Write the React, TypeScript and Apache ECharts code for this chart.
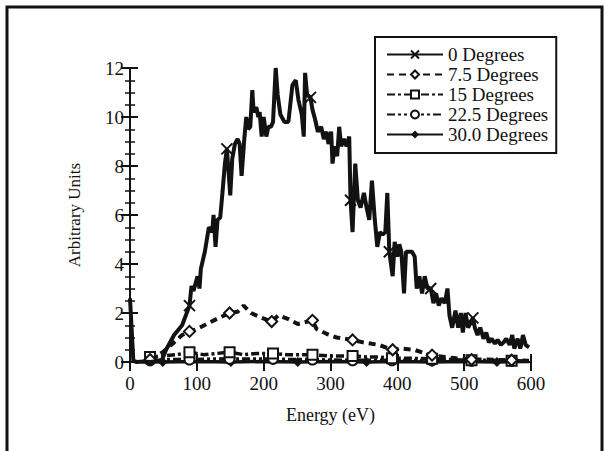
import React, { useEffect, useRef } from "react";
import * as echarts from "echarts";

// ---- Data ----
const xTicks = [0, 100, 200, 300, 400, 500, 600];
const yTicks = [0, 2, 4, 6, 8, 10, 12];

const deg0X = [0, 5, 10, 20, 30, 40, 48, 54, 66, 78, 89, 92, 95, 101, 104, 106, 112, 118, 123, 125, 128, 131, 135, 138, 142, 145, 150, 153, 157, 161, 164, 167, 171, 174, 177, 180, 183, 185, 189, 192, 194, 197, 200, 204, 207, 211, 214, 218, 221, 225, 231, 237, 243, 248, 252, 257, 260, 262, 265, 270, 273, 277, 281, 286, 290, 294, 297, 301, 303, 306, 310, 313, 316, 320, 324, 328, 330, 333, 337, 341, 345, 350, 354, 358, 362, 366, 370, 374, 378, 382, 385, 388, 393, 396, 400, 403, 406, 410, 413, 422, 426, 429, 433, 437, 441, 445, 450, 454, 458, 462, 466, 471, 475, 478, 482, 487, 491, 495, 498, 502, 506, 513, 516, 520, 524, 529, 533, 537, 541, 546, 550, 555, 559, 563, 568, 572, 575, 580, 584, 588, 592, 597];
const deg0Y = [2.6, 0.05, 0, 0.02, 0, 0.03, 0.1, 0.5, 1.1, 1.5, 2.3, 3.1, 2.9, 3.5, 3.0, 3.8, 4.5, 5.5, 5.3, 6.0, 4.7, 5.8, 5.9, 6.8, 8.1, 8.7, 6.8, 8.3, 8.9, 9.1, 8.9, 7.6, 9.1, 10.0, 9.5, 9.6, 11.1, 10.2, 10.4, 10.0, 10.2, 9.2, 10.0, 9.2, 9.6, 9.6, 9.8, 12.0, 10.9, 10.1, 9.8, 9.8, 11.3, 11.5, 10.7, 10.1, 9.2, 11.8, 10.9, 10.8, 10.3, 9.9, 9.4, 9.6, 9.1, 9.4, 8.9, 9.4, 8.1, 8.8, 8.4, 9.6, 8.8, 9.1, 8.8, 9.2, 6.6, 5.3, 8.1, 6.6, 6.3, 6.9, 6.3, 5.8, 7.4, 5.9, 4.7, 5.3, 5.2, 5.3, 6.9, 4.5, 3.5, 4.9, 4.3, 4.8, 4.5, 2.8, 4.5, 4.5, 4.3, 3.0, 3.5, 2.8, 3.5, 3.0, 3.0, 2.4, 2.8, 2.3, 2.6, 2.4, 3.0, 1.9, 1.4, 2.1, 1.4, 2.0, 1.2, 2.0, 1.4, 1.8, 1.4, 1.1, 1.4, 0.95, 1.2, 0.8, 0.95, 0.75, 0.9, 0.7, 0.8, 0.95, 0.7, 1.1, 0.55, 0.95, 0.55, 1.1, 0.7, 0.6];
const deg0Marks = [89, 145, 270, 330, 388, 450, 513];

const deg75X = [30, 49, 66, 78, 89, 101, 118, 133, 149, 161, 170, 181, 193, 212, 222, 237, 251, 273, 279, 294, 309, 333, 349, 372, 393, 407, 425, 442, 452, 471, 488, 511, 534, 571, 597];
const deg75Y = [0.1, 0.4, 0.8, 1.1, 1.25, 1.35, 1.6, 1.8, 2.0, 2.05, 2.3, 2.0, 1.85, 1.65, 1.9, 1.75, 1.55, 1.7, 1.35, 1.15, 1.0, 0.9, 0.8, 0.7, 0.5, 0.55, 0.5, 0.35, 0.28, 0.2, 0.15, 0.1, 0.1, 0.07, 0.05];
const deg75Marks = [30, 89, 149, 212, 273, 333, 393, 452, 511, 571];

const deg15X = [30, 50, 70, 89, 110, 130, 149, 170, 190, 214, 235, 255, 273, 295, 315, 333, 355, 375, 392, 420, 452, 480, 511, 540, 571, 597];
const deg15Y = [0.2, 0.25, 0.3, 0.4, 0.3, 0.35, 0.4, 0.3, 0.35, 0.35, 0.3, 0.3, 0.3, 0.25, 0.25, 0.25, 0.2, 0.2, 0.15, 0.15, 0.13, 0.1, 0.07, 0.07, 0.05, 0.05];
const deg15Marks = [30, 89, 149, 214, 273, 333, 392, 452, 511, 571];

const deg225X = [30, 60, 89, 120, 149, 180, 214, 240, 273, 300, 333, 360, 392, 420, 452, 480, 511, 540, 571, 597];
const deg225Y = [0.07, 0.1, 0.1, 0.12, 0.13, 0.12, 0.13, 0.1, 0.1, 0.08, 0.07, 0.07, 0.07, 0.06, 0.07, 0.05, 0.05, 0.05, 0.05, 0.04];
const deg225Marks = [30, 89, 149, 214, 273, 333, 392, 452, 511, 571];

const deg30X = [30, 49, 100, 151, 200, 251, 300, 354, 400, 452, 500, 549, 597];
const deg30Y = [0.02, 0, 0.02, 0, 0.02, 0, 0.02, 0, 0.02, 0, 0.02, 0, 0.02];
const deg30Marks = [49, 151, 251, 354, 452, 549];

const seriesNames = ["0 Degrees", "7.5 Degrees", "15 Degrees", "22.5 Degrees", "30.0 Degrees"];

const INK = "#121212";
const FONT = "Liberation Serif";

function build(xs: number[], ys: number[], marks: number[]) {
  return xs.map((x, i) =>
    marks.includes(x) ? { value: [x, ys[i]] } : { value: [x, ys[i]], symbol: "none" }
  );
}

export default function App() {
  const ref = useRef<HTMLDivElement>(null);
  useEffect(() => {
    if (!ref.current) return;
    const chart = echarts.init(ref.current, undefined, { renderer: "svg" });
    const axisCommon = {
      type: "value" as const,
      axisLine: { show: true, lineStyle: { color: INK, width: 2 } },
      splitLine: { show: false },
    };
    chart.setOption({
      animation: false,
      backgroundColor: "#ffffff",
      grid: { left: 130, right: 76, top: 68, bottom: 89 },
      legend: {
        orient: "vertical",
        left: 375,
        top: 37,
        data: seriesNames,
        itemWidth: 56,
        itemHeight: 10,
        itemGap: 1,
        padding: [8, 8, 9, 11],
        backgroundColor: "#ffffff",
        borderColor: INK,
        borderWidth: 2,
        borderRadius: 0,
        textStyle: { fontFamily: FONT, fontSize: 19, lineHeight: 17, color: INK },
      },
      xAxis: [
        {
          ...axisCommon,
          position: "bottom",
          min: 0,
          max: 600,
          interval: 100,
          axisTick: { show: true, inside: false, length: 9, lineStyle: { color: INK, width: 2 } },
          axisLabel: { fontFamily: FONT, fontSize: 19, color: INK, margin: 12 },
          name: "Energy (eV)",
          nameLocation: "middle",
          nameGap: 44,
          nameTextStyle: { fontFamily: FONT, fontSize: 18, color: INK },
        },
        {
          ...axisCommon,
          position: "top",
          min: 0,
          max: 600,
          interval: 100,
          axisTick: { show: true, inside: false, length: 8, lineStyle: { color: INK, width: 2 } },
          axisLabel: { show: false },
        },
      ],
      yAxis: [
        {
          ...axisCommon,
          position: "left",
          min: 0,
          max: 12,
          interval: 2,
          axisTick: { show: true, length: 9, lineStyle: { color: INK, width: 2 } },
          minorTick: { show: true, splitNumber: 4, length: 5, lineStyle: { color: INK, width: 1.5 } },
          axisLabel: { fontFamily: FONT, fontSize: 19, color: INK, margin: 6 },
          name: "Arbitrary Units",
          nameLocation: "middle",
          nameGap: 47,
          nameTextStyle: { fontFamily: FONT, fontSize: 17, color: INK },
        },
        {
          ...axisCommon,
          position: "right",
          min: 0,
          max: 12,
          interval: 2,
          axisTick: { show: true, length: 8, lineStyle: { color: INK, width: 2 } },
          minorTick: { show: true, splitNumber: 4, length: 5, lineStyle: { color: INK, width: 1.5 } },
          axisLabel: { show: false },
        },
      ],
      graphic: [
        {
          type: "rect",
          shape: { x: 7, y: 7, width: 595, height: 480 },
          style: { fill: "none", stroke: INK, lineWidth: 3 },
          silent: true,
        },
      ],
      series: [
        {
          name: seriesNames[4],
          type: "line",
          clip: false,
          symbol: "diamond",
          symbolSize: 10,
          data: build(deg30X, deg30Y, deg30Marks),
          lineStyle: { color: INK, width: 3.5 },
          itemStyle: { color: INK },
          z: 2,
        },
        {
          name: seriesNames[3],
          type: "line",
          clip: false,
          symbol: "emptyCircle",
          symbolSize: 10,
          data: build(deg225X, deg225Y, deg225Marks),
          lineStyle: { color: INK, width: 3.5, type: [8, 3, 3, 3, 3, 3] },
          itemStyle: { color: INK, borderWidth: 2 },
          z: 3,
        },
        {
          name: seriesNames[2],
          type: "line",
          clip: false,
          symbol: "emptyRect",
          symbolSize: 10,
          data: build(deg15X, deg15Y, deg15Marks),
          lineStyle: { color: INK, width: 3.5, type: [8, 3, 3, 3] },
          itemStyle: { color: INK, borderWidth: 2 },
          z: 3,
        },
        {
          name: seriesNames[1],
          type: "line",
          clip: false,
          symbol: "emptyDiamond",
          symbolSize: 11,
          data: build(deg75X, deg75Y, deg75Marks),
          lineStyle: { color: INK, width: 4, type: [7, 5] },
          itemStyle: { color: INK, borderWidth: 2 },
          z: 3,
        },
        {
          name: seriesNames[0],
          type: "line",
          clip: false,
          symbol: "path://M0,0L10,10M10,0L0,10",
          symbolSize: 11,
          data: build(deg0X, deg0Y, deg0Marks),
          lineStyle: { color: INK, width: 4 },
          itemStyle: { color: INK, borderColor: INK, borderWidth: 2 },
          z: 4,
        },
      ],
    });
    return () => chart.dispose();
  }, []);
  return (
    <div
      ref={ref}
      style={{ position: "fixed", left: 0, top: 0, width: 607, height: 451, background: "#fff" }}
    />
  );
}
